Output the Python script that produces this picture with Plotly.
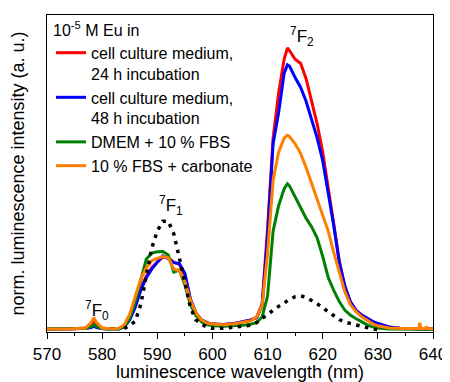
import plotly.graph_objects as go

# shared wavelength grid (nm)
wavelength = [570, 574, 577, 578, 578.5, 579, 580, 581, 582, 583, 584, 585, 586, 587, 588, 589,
              590, 591, 592, 593, 594, 595, 596, 597, 598, 599, 600, 602, 604, 606, 607, 608,
              609, 610, 611, 612, 613, 613.6, 614, 615, 616, 617, 618, 619, 620, 621, 622, 623,
              624, 625, 626, 627, 628, 629, 630, 632, 634, 636, 637.4, 637.6, 637.8, 638.6,
              638.8, 639, 640]

red_24h = [0.003, 0.003, 0.006, 0.022, 0.03, 0.022, 0.006, 0.004, 0.003, 0.004, 0.012, 0.038,
           0.085, 0.145, 0.19, 0.22, 0.24, 0.258, 0.255, 0.24, 0.232, 0.195, 0.105, 0.058,
           0.035, 0.025, 0.02, 0.019, 0.022, 0.03, 0.035, 0.044, 0.09, 0.36, 0.68, 0.84, 0.96,
           1.0, 0.99, 0.96, 0.945, 0.89, 0.81, 0.73, 0.63, 0.51, 0.375, 0.245, 0.155, 0.1,
           0.07, 0.053, 0.04, 0.03, 0.022, 0.01, 0.005, 0.003, 0.003, 0.003, 0.003, 0.003,
           0.003, 0.003, 0.003]

blue_48h = [0.003, 0.003, 0.004, 0.008, 0.012, 0.008, 0.004, 0.003, 0.003, 0.003, 0.01, 0.035,
            0.08, 0.14, 0.185, 0.215, 0.24, 0.262, 0.252, 0.238, 0.235, 0.2, 0.11, 0.06,
            0.035, 0.025, 0.02, 0.019, 0.022, 0.03, 0.035, 0.042, 0.085, 0.33, 0.66, 0.77, 0.91,
            0.94, 0.935, 0.895, 0.86, 0.81, 0.74, 0.68, 0.6, 0.49, 0.37, 0.24, 0.155, 0.1,
            0.07, 0.053, 0.04, 0.03, 0.022, 0.01, 0.005, 0.003, 0.003, 0.003, 0.003, 0.003,
            0.003, 0.003, 0.003]

green_dmem = [0.003, 0.003, 0.004, 0.012, 0.018, 0.012, 0.004, 0.003, 0.003, 0.003, 0.012, 0.04,
              0.1, 0.18, 0.25, 0.272, 0.277, 0.278, 0.265, 0.205, 0.212, 0.16, 0.09, 0.05,
              0.028, 0.018, 0.014, 0.012, 0.014, 0.017, 0.02, 0.025, 0.045, 0.12, 0.35, 0.44,
              0.5, 0.518, 0.51, 0.47, 0.43, 0.395, 0.365, 0.325, 0.26, 0.185, 0.14, 0.1, 0.07,
              0.052, 0.04, 0.028, 0.018, 0.01, 0.006, 0.003, 0.002, 0.002, 0.002, 0.002, 0.002,
              0.002, 0.002, 0.002, 0.002]

orange_carb = [0.003, 0.003, 0.006, 0.025, 0.043, 0.025, 0.006, 0.004, 0.003, 0.005, 0.017,
               0.055, 0.12, 0.18, 0.22, 0.245, 0.253, 0.26, 0.255, 0.215, 0.21, 0.17, 0.105,
               0.06, 0.035, 0.024, 0.02, 0.018, 0.021, 0.028, 0.032, 0.045, 0.085, 0.27, 0.53,
               0.63, 0.68, 0.69, 0.685, 0.66, 0.625, 0.575, 0.52, 0.46, 0.41, 0.35, 0.275, 0.2,
               0.135, 0.09, 0.065, 0.047, 0.033, 0.022, 0.014, 0.006, 0.004, 0.003, 0.004,
               0.025, 0.004, 0.004, 0.012, 0.004, 0.003]

# dotted reference spectrum (own grid)
wavelength_ref = [584, 585, 586, 587, 588, 589, 590, 591, 592, 593, 594, 595, 596, 597, 598, 599,
                  600, 602, 604, 606, 607, 608, 609, 610, 611, 612, 613, 614, 615, 616, 617, 618,
                  619, 620, 621, 622, 623, 624, 625, 626, 627, 628, 629, 630]
ref_dotted = [0.005, 0.015, 0.03, 0.09, 0.19, 0.29, 0.35, 0.385, 0.385, 0.34, 0.255, 0.17, 0.08,
              0.035, 0.02, 0.01, 0.005, 0.005, 0.008, 0.014, 0.016, 0.025, 0.04, 0.055, 0.07,
              0.083, 0.095, 0.108, 0.117, 0.12, 0.115, 0.104, 0.092, 0.078, 0.063, 0.048, 0.036,
              0.027, 0.022, 0.018, 0.012, 0.006, 0.003, 0.0]

series_names = ["cell culture medium,<br>24 h incubation",
                "cell culture medium,<br>48 h incubation",
                "DMEM + 10 % FBS",
                "10 % FBS + carbonate"]
series_colors = ["#ff0000", "#0000ff", "#008000", "#ff8000"]
series_values = [red_24h, blue_48h, green_dmem, orange_carb]

x_ticks = [570, 580, 590, 600, 610, 620, 630, 640]
peak_labels = ["<sup>7</sup>F<sub>0</sub>", "<sup>7</sup>F<sub>1</sub>", "<sup>7</sup>F<sub>2</sub>"]
peak_label_x = [579.0, 592.5, 616.2]
peak_label_y = [0.07, 0.44, 1.04]

FONT = "Arial, 'Liberation Sans', sans-serif"

fig = go.Figure()
for name, col, vals in zip(series_names, series_colors, series_values):
    fig.add_trace(go.Scatter(x=wavelength, y=vals, mode="lines", name=name,
                             line=dict(color=col, width=3)))
fig.add_trace(go.Scatter(x=wavelength_ref, y=ref_dotted, mode="lines", showlegend=False,
                         line=dict(color="black", width=3.5, dash="3.5px,5.5px")))

for t, xx, yy in zip(peak_labels, peak_label_x, peak_label_y):
    fig.add_annotation(x=xx, y=yy, text=t, showarrow=False, xref="x", yref="y",
                       font=dict(size=17, color="black", family=FONT))

# the page places the figure 8 px in from the top-left corner, so the figure is
# 8 px smaller and its left/top margins are reduced accordingly
fig.update_layout(
    width=442, height=374,
    margin=dict(l=39, r=17, t=7, b=50),
    paper_bgcolor="white", plot_bgcolor="white",
    font=dict(family=FONT, size=17, color="black"),
    legend=dict(x=0.0104, y=1.0, xanchor="left", yanchor="top", bgcolor="rgba(0,0,0,0)",
                borderwidth=0, font=dict(size=16, family=FONT), valign="top",
                title=dict(text="10<sup>-5</sup> M Eu in", font=dict(size=16, family=FONT)),
                itemwidth=30, tracegroupgap=0),
    xaxis=dict(range=[570, 640], tickvals=x_ticks, ticks="outside", ticklen=6, tickwidth=1,
               tickcolor="black", showline=True, linecolor="black", linewidth=1.2, mirror=True,
               showgrid=False, zeroline=False, automargin=False,
               minor=dict(dtick=5, tick0=570, ticks="outside", ticklen=3, tickcolor="black"),
               tickfont=dict(size=17), title=dict(text="luminescence wavelength (nm)",
                                                  font=dict(size=18), standoff=2)),
    yaxis=dict(range=[-0.008, 1.117], showticklabels=False, ticks="", showline=True,
               linecolor="black", linewidth=1.2, mirror=True, showgrid=False, zeroline=False,
               automargin=False,
               title=dict(text="norm. luminescence intensity (a. u.)", font=dict(size=18),
                          standoff=16)),
)

fig.write_html("out.html")
